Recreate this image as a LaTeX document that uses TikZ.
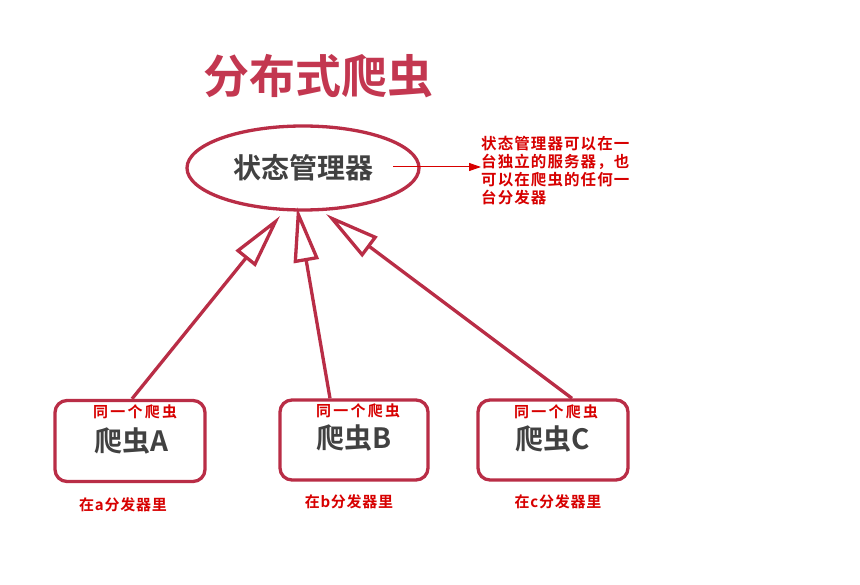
\documentclass[tikz,border=0pt]{standalone}
\usepackage{fontspec}
\usetikzlibrary{arrows.meta,shapes.geometric}
\newfontfamily\cjk{Noto Sans CJK SC}[BoldFont={Noto Sans CJK SC Bold}]
\newfontfamily\cjksp{Noto Sans CJK SC}[BoldFont={Noto Sans CJK SC Bold}, LetterSpace=15]
\newfontfamily\cjknote{Noto Sans CJK SC}[BoldFont={Noto Sans CJK SC Bold}, LetterSpace=7]
\newfontfamily\cjklab{Noto Sans CJK SC}[BoldFont={Noto Sans CJK SC Bold}, LetterSpace=5]
\definecolor{crim}{RGB}{185,45,70}
\definecolor{titlec}{RGB}{195,55,80}
\definecolor{darkg}{RGB}{65,65,65}
\definecolor{note}{RGB}{215,0,0}
\tikzset{
  gen/.style={draw=crim, line width=3.3pt, -{Triangle[open, length=55pt, width=25pt, line width=3.3pt]}},
  worker/.style={draw=crim, line width=3.3pt, rounded corners=12pt, fill=white, minimum width=150pt, minimum height=81pt},
  small/.style={font=\cjksp\bfseries\fontsize{15}{17}\selectfont, text=note},
  lab/.style={font=\cjklab\bfseries\fontsize{15}{17}\selectfont, text=note},
  big/.style={font=\cjk\bfseries\fontsize{28}{30}\selectfont, text=darkg},
}
\begin{document}
\begin{tikzpicture}[x=1pt,y=-1pt]
\useasboundingbox[fill=white] (0,0) rectangle (860,585);
\node[font=\cjk\bfseries\fontsize{46}{50}\selectfont, text=titlec] (title) at (318,76) {分布式爬虫};
\node[ellipse, draw=crim, line width=3.3pt, fill=white, minimum width=232pt, minimum height=84pt, inner sep=0pt] (sm) at (303,168) {};
\node[big] (smt) at (303,168) {状态管理器};
\coordinate (ns) at (393,167);
\node[font=\cjknote\bfseries\fontsize{15.5}{18}\selectfont, text=note, align=left, anchor=north west, inner sep=0pt] (notes) at (481,136) {状态管理器可以在一\\台独立的服务器，也\\可以在爬虫的任何一\\台分发器};
\draw[note, line width=1pt, -{Triangle[length=12pt, width=8pt]}] (ns) -- (notes.west |- ns);

\node[worker] (A) at (130,441) {};
\node[worker, minimum width=148pt, minimum height=80pt] (B) at (354,440) {};
\node[worker, minimum height=80pt] (C) at (553,440) {};

\node[small] (As) at (135,412) {同一个爬虫};
\node[big] (Ab) at (131,441) {爬虫A};
\node[small] (Bs) at (358,411) {同一个爬虫};
\node[big] (Bb) at (354,438) {爬虫B};
\node[small] (Cs) at (556,412) {同一个爬虫};
\node[big] (Cb) at (553,439) {爬虫C};

\node[lab] (Al) at (123,505) {在a分发器里};
\node[lab] (Bl) at (349,502) {在b分发器里};
\node[lab] (Cl) at (558,502) {在c分发器里};

\coordinate (ta) at (280,216);
\coordinate (tb) at (297,207);
\coordinate (tc) at (326,214);
\draw[gen] ([xshift=2pt]A.north) -- (ta);
\draw[gen] ([xshift=-24pt]B.north) -- (tb);
\draw[gen] ([xshift=19pt]C.north) -- (tc);
\end{tikzpicture}
\end{document}
